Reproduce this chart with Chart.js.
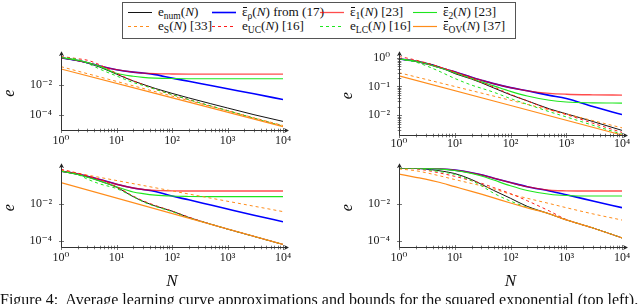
<!DOCTYPE html>
<html lang="en">
<head>
  <meta charset="UTF-8" />
  <title>Average learning curve approximations</title>
  <script src="https://cdn.jsdelivr.net/npm/chart.js@4/dist/chart.umd.min.js"></script>
  <style>
    * { box-sizing: border-box; }
    body { margin: 0; background: #fff; }
    .page {
      position: relative; width: 640px; height: 304px; overflow: hidden;
      font-family: 'Liberation Serif', 'DejaVu Serif', serif; color: #111;
    }
    canvas { position: absolute; }
    .legend { position: absolute; left: 122px; top: 2px; width: 394px; height: 37px; border: 1px solid #555; }
    .item { position: absolute; height: 14px; font-size: 13.2px; line-height: 14px; white-space: nowrap; }
    .item svg { position: absolute; left: 0; top: 6px; }
    .item .t { position: absolute; left: 30px; top: 0; }
    .item sub { font-size: 0.72em; vertical-align: -0.3em; line-height: 0; }
    .bar { position: relative; }
    .bar::before { content: ''; position: absolute; left: 0.08em; right: 0.02em; top: 0.22em; border-top: 1px solid #111; }
    .caption { position: absolute; left: 0; top: 292px; font-size: 16px; line-height: 16px; white-space: nowrap; }
  </style>
</head>
<body>
<div class="page">
  <div class="legend"></div>

  <div class="item" style="left:128px;top:5px"><svg width="24" height="3"><line x1="0" y1="1.5" x2="24" y2="1.5" stroke="#141414" stroke-width="1"/></svg><span class="t">e<sub>num</sub>(<i>N</i>)</span></div>
  <div class="item" style="left:212px;top:5px"><svg width="24" height="3"><line x1="0" y1="1.5" x2="24" y2="1.5" stroke="#0000ff" stroke-width="1.6"/></svg><span class="t"><span class="bar">ε</span><sub>ρ</sub>(<i>N</i>) from (17)</span></div>
  <div class="item" style="left:320px;top:5px"><svg width="24" height="3"><line x1="0" y1="1.5" x2="24" y2="1.5" stroke="rgba(255,0,0,0.7)" stroke-width="1.3"/></svg><span class="t"><span class="bar">ε</span><sub>1</sub>(<i>N</i>) [23]</span></div>
  <div class="item" style="left:413px;top:5px"><svg width="24" height="3"><line x1="0" y1="1.5" x2="24" y2="1.5" stroke="#1ee61e" stroke-width="1.1"/></svg><span class="t"><span class="bar">ε</span><sub>2</sub>(<i>N</i>) [23]</span></div>

  <div class="item" style="left:128px;top:19px"><svg width="24" height="3"><line x1="0" y1="1.5" x2="24" y2="1.5" stroke="#ff8c1a" stroke-width="1" stroke-dasharray="3 3"/></svg><span class="t">e<sub>S</sub>(<i>N</i>) [33]</span></div>
  <div class="item" style="left:212px;top:19px"><svg width="24" height="3"><line x1="0" y1="1.5" x2="24" y2="1.5" stroke="#ff1a1a" stroke-width="1" stroke-dasharray="3 3"/></svg><span class="t">e<sub>UC</sub>(<i>N</i>) [16]</span></div>
  <div class="item" style="left:320px;top:19px"><svg width="24" height="3"><line x1="0" y1="1.5" x2="24" y2="1.5" stroke="#1ee61e" stroke-width="1" stroke-dasharray="3 3"/></svg><span class="t">e<sub>LC</sub>(<i>N</i>) [16]</span></div>
  <div class="item" style="left:413px;top:19px"><svg width="24" height="3"><line x1="0" y1="1.5" x2="24" y2="1.5" stroke="#ff8c1a" stroke-width="1.2"/></svg><span class="t"><span class="bar">ε</span><sub>OV</sub>(<i>N</i>) [37]</span></div>

  <canvas id="tl" width="300" height="112" style="left:0;top:40px"></canvas>
  <canvas id="tr" width="310" height="112" style="left:330px;top:40px"></canvas>
  <canvas id="bl" width="300" height="140" style="left:0;top:152px"></canvas>
  <canvas id="br" width="310" height="140" style="left:330px;top:152px"></canvas>

  <div class="caption">Figure 4:&nbsp; Average learning curve approximations and bounds for the squared exponential (top left).</div>
</div>

<script>
  // sample sizes the curves are read at
  const nGrid = [1, 2, 3, 5, 10, 20, 30, 50, 100, 200, 500, 1000, 3000, 10000];
  const nEnds = [1, 10000];

  // top left panel
  const tlNum  = [0.575, 0.372, 0.263, 0.141, 0.049, 0.0174, 0.0105, 0.00562, 0.00269, 0.00135, 5.62e-4, 2.95e-4, 1.07e-4, 3.89e-5];
  const tlRho  = [0.575, 0.38, 0.275, 0.166, 0.0955, 0.0661, 0.0575, 0.0457, 0.0269, 0.0166, 0.00871, 0.00537, 0.00251, 0.00105];
  const tlEps1 = [0.575, 0.38, 0.275, 0.166, 0.0955, 0.0661, 0.0575, 0.0525, 0.0501, 0.049, 0.049, 0.049, 0.049, 0.049];
  const tlEps2 = [0.6, 0.398, 0.282, 0.158, 0.0562, 0.0355, 0.0302, 0.0269, 0.0251, 0.0245, 0.0245, 0.0245, 0.0245, 0.0245];
  const tlS    = [0.151, 2.09e-5];
  const tlUC   = [0.72, 0.5, 0.398, 0.2, 0.0562, 0.0178, 0.01, 0.00501, 0.00224, 0.00105, 3.98e-4, 2.0e-4, 6.31e-5, 1.91e-5];
  const tlLC   = [0.603, 0.447, 0.251, 0.105, 0.0372, 0.0138, 0.00891, 0.00501, 0.00224, 0.00105, 3.98e-4, 2.0e-4, 6.31e-5, 1.91e-5];
  const tlOV   = [0.107, 1.78e-5];

  // top right panel
  const trNum  = [0.912, 0.759, 0.661, 0.501, 0.282, 0.182, 0.135, 0.0891, 0.0513, 0.0316, 0.0166, 0.0112, 0.00603, 0.00295];
  const trRho  = [0.912, 0.759, 0.631, 0.479, 0.324, 0.209, 0.166, 0.126, 0.0912, 0.0708, 0.049, 0.038, 0.02, 0.0105];
  const trEps1 = [0.912, 0.759, 0.631, 0.479, 0.324, 0.209, 0.166, 0.126, 0.0912, 0.0708, 0.0575, 0.0537, 0.0513, 0.0501];
  const trEps2 = [0.912, 0.759, 0.631, 0.468, 0.302, 0.191, 0.145, 0.105, 0.0676, 0.0468, 0.0331, 0.0288, 0.0269, 0.0263];
  const trS    = [0.302, 0.00363];
  const trUC   = [1.12, 0.832, 0.676, 0.501, 0.316, 0.191, 0.141, 0.0955, 0.0537, 0.0316, 0.0158, 0.0105, 0.00525, 0.00251];
  const trLC   = [0.912, 0.708, 0.537, 0.355, 0.191, 0.112, 0.0871, 0.0631, 0.038, 0.024, 0.0132, 0.00871, 0.00447, 0.00219];
  const trOV   = [0.234, 0.00204];

  // bottom left panel
  const blNum  = [0.537, 0.355, 0.263, 0.158, 0.0741, 0.0234, 0.0132, 0.00741, 0.00398, 0.00182, 7.94e-4, 4.37e-4, 1.78e-4, 6.61e-5];
  const blRho  = [0.537, 0.38, 0.282, 0.191, 0.107, 0.0676, 0.0562, 0.0437, 0.0251, 0.0158, 0.00832, 0.00513, 0.0024, 0.00107];
  const blEps1 = [0.537, 0.38, 0.282, 0.191, 0.107, 0.0676, 0.0562, 0.0501, 0.0479, 0.0468, 0.0468, 0.0468, 0.0468, 0.0468];
  const blEps2 = [0.537, 0.355, 0.251, 0.158, 0.0794, 0.0417, 0.0339, 0.0282, 0.0251, 0.024, 0.0234, 0.0234, 0.0234, 0.0234];
  const blS    = [0.603, 0.00372];
  const blUC   = [0.676, 0.417, 0.302, 0.191, 0.0794, 0.0251, 0.0141, 0.00794, 0.00398, 0.00191, 7.94e-4, 4.37e-4, 1.78e-4, 6.61e-5];
  const blLC   = [0.537, 0.355, 0.2, 0.112, 0.0631, 0.0234, 0.0126, 0.00708, 0.00372, 0.00174, 7.94e-4, 4.37e-4, 1.78e-4, 6.61e-5];
  const blOV   = [0.132, 6.61e-5];

  // bottom right panel
  const brNum  = [0.75, 0.74, 0.69, 0.575, 0.398, 0.191, 0.107, 0.0501, 0.0191, 0.00708, 0.00282, 0.00135, 5.01e-4, 1.48e-4];
  const brRho  = [0.76, 0.76, 0.75, 0.724, 0.603, 0.437, 0.339, 0.224, 0.132, 0.0794, 0.0468, 0.0295, 0.0138, 0.00603];
  const brEps1 = [0.76, 0.76, 0.75, 0.724, 0.603, 0.437, 0.339, 0.224, 0.132, 0.0794, 0.0513, 0.0479, 0.0468, 0.0468];
  const brEps2 = [0.76, 0.76, 0.75, 0.708, 0.575, 0.398, 0.295, 0.178, 0.0891, 0.0501, 0.0316, 0.0269, 0.0251, 0.0251];
  const brS    = [0.7, 0.562, 0.447, 0.316, 0.191, 0.1175, 0.0891, 0.0603, 0.0316, 0.0191, 0.01, 0.00603, 0.00282, 0.00132];
  const brUC   = [0.76, 0.708, 0.603, 0.447, 0.282, 0.166, 0.12, 0.0708, 0.0339, 0.0141, 0.00398, 0.00141, 5.01e-4, 1.48e-4];
  const brLC   = [0.76, 0.741, 0.661, 0.525, 0.355, 0.166, 0.0891, 0.0355, 0.0135, 0.00631, 0.00282, 0.00135, 5.01e-4, 1.48e-4];
  const brOV   = [0.372, 0.251, 0.2, 0.141, 0.0794, 0.0447, 0.0316, 0.02, 0.0107, 0.00589, 0.00282, 0.00135, 5.01e-4, 1.48e-4];

  // axis tick labels
  const xTickValues = [1, 10, 100, 1000, 10000];
  const yTicksWide = [1e-2, 1e-4];
  const yTicksTR = [1, 0.1, 0.01];

  const serif = "'Liberation Serif', 'DejaVu Serif', serif";
  const seriesKeys = ['num', 'rho', 'eps1', 'eps2', 'S', 'UC', 'LC', 'OV'];
  const seriesStyle = {
    num:  { color: '#141414', width: 1.0, dash: [] },
    rho:  { color: '#0000ff', width: 1.6, dash: [] },
    eps1: { color: 'rgba(255,0,0,0.7)', width: 1.3, dash: [] },
    eps2: { color: '#1ee61e', width: 1.1, dash: [] },
    S:    { color: '#ff8c1a', width: 1.0, dash: [3, 3] },
    UC:   { color: '#ff1a1a', width: 1.0, dash: [3, 3] },
    LC:   { color: '#1ee61e', width: 1.0, dash: [3, 3] },
    OV:   { color: '#ff8c1a', width: 1.2, dash: [] }
  };

  const sup = { '-': '\u207B', '0': '\u2070', '1': '\u00B9', '2': '\u00B2', '3': '\u00B3', '4': '\u2074', '5': '\u2075' };
  function powLabel(v) {
    const k = Math.round(Math.log10(v));
    return '10' + String(k).split('').map(c => sup[c]).join('');
  }

  function minorValues(min, max) {
    const out = [];
    for (let k = Math.floor(Math.log10(min)); k <= Math.ceil(Math.log10(max)); k++) {
      for (let m = 1; m < 10; m++) {
        const v = m * Math.pow(10, k);
        if (v >= min * 0.999 && v <= max * 1.001) out.push({ v, major: m === 1 });
      }
    }
    return out;
  }

  // pgfplots-like axis lines: arrows and ticks crossing the axis
  const axisDeco = {
    id: 'axisDeco',
    afterDatasetsDraw(chart, args, opts) {
      const { ctx, chartArea: a, scales: { x, y } } = chart;
      const xb = Math.round(a.bottom) + 0.5;
      const yl = Math.round(a.left) + 0.5;
      ctx.save();
      ctx.strokeStyle = '#555';
      ctx.lineWidth = 0.8;
      ctx.beginPath();
      minorValues(x.min, x.max).forEach(t => {
        const px = Math.round(x.getPixelForValue(t.v)) + 0.5;
        const h = t.major ? 2.5 : 1.8;
        ctx.moveTo(px, xb - h); ctx.lineTo(px, xb + h);
      });
      const yt = opts.yMinor ? minorValues(y.min, y.max) : opts.yTicks.map(v => ({ v, major: true }));
      yt.forEach(t => {
        const py = Math.round(y.getPixelForValue(t.v)) + 0.5;
        const h = t.major ? 2.5 : 1.8;
        ctx.moveTo(yl - h, py); ctx.lineTo(yl + h, py);
      });
      ctx.stroke();

      ctx.strokeStyle = '#333';
      ctx.fillStyle = '#222';
      ctx.lineWidth = 1;
      ctx.beginPath();
      ctx.moveTo(yl, xb); ctx.lineTo(a.right + 3, xb);
      ctx.moveTo(yl, xb); ctx.lineTo(yl, a.top - 2);
      ctx.stroke();
      ctx.beginPath();
      ctx.moveTo(a.right + 6, xb); ctx.lineTo(a.right + 1, xb - 2.6); ctx.lineTo(a.right + 2.5, xb); ctx.lineTo(a.right + 1, xb + 2.6); ctx.closePath();
      ctx.moveTo(yl, a.top - 5); ctx.lineTo(yl - 2.6, a.top); ctx.lineTo(yl, a.top - 1.5); ctx.lineTo(yl + 2.6, a.top); ctx.closePath();
      ctx.fill();
      ctx.restore();
    }
  };

  function buildPanel(p) {
    const datasets = seriesKeys.map((k, i) => {
      const vals = p.series[k];
      const xs = vals.length === 2 ? nEnds : nGrid;
      const st = seriesStyle[k];
      return {
        label: k,
        data: xs.map((n, j) => ({ x: n, y: vals[j] })),
        borderColor: st.color,
        borderWidth: st.width,
        borderDash: st.dash,
        pointRadius: 0,
        fill: false,
        cubicInterpolationMode: 'monotone',
        order: seriesKeys.length - i
      };
    });

    return new Chart(document.getElementById(p.id), {
      type: 'line',
      data: { datasets },
      options: {
        responsive: false,
        animation: false,
        events: [],
        layout: { padding: { left: 0, right: p.padR, top: p.padT, bottom: 0 } },
        plugins: {
          legend: { display: false },
          tooltip: { enabled: false },
          axisDeco: { yMinor: p.yMinor, yTicks: p.yTicks }
        },
        scales: {
          x: {
            type: 'logarithmic', min: 1, max: 10000,
            afterBuildTicks: s => { s.ticks = xTickValues.map(v => ({ value: v })); },
            afterFit: s => { s.height = p.xH; },
            grid: { display: false, drawTicks: false },
            border: { display: false },
            ticks: { autoSkip: false, maxRotation: 0, padding: p.xPad, color: '#1a1a1a', font: { family: serif, size: 12 }, callback: powLabel },
            title: { display: p.showN, text: 'N', color: '#111', font: { family: serif, size: 17, style: 'italic' }, padding: { top: 0, bottom: 0 } }
          },
          y: {
            type: 'logarithmic', min: p.yMin, max: p.yMax,
            afterBuildTicks: s => { s.ticks = p.yTicks.map(v => ({ value: v })); },
            afterFit: s => { s.width = p.yW; },
            grid: { display: false, drawTicks: false },
            border: { display: false },
            ticks: { autoSkip: false, padding: 9, color: '#1a1a1a', font: { family: serif, size: 12 }, callback: powLabel },
            title: { display: true, text: 'e', color: '#111', font: { family: serif, size: 16, style: 'italic' }, padding: { top: p.ePad, bottom: 0 } }
          }
        }
      },
      plugins: [axisDeco]
    });
  }

  buildPanel({
    id: 'tl', yMin: 1.06e-5, yMax: 0.735, yTicks: yTicksWide, yMinor: false,
    padT: 7, padR: 17, xH: 22, yW: 61, xPad: 4, ePad: 0, showN: false,
    series: { num: tlNum, rho: tlRho, eps1: tlEps1, eps2: tlEps2, S: tlS, UC: tlUC, LC: tlLC, OV: tlOV }
  });
  buildPanel({
    id: 'tr', yMin: 2.04e-3, yMax: 1.137, yTicks: yTicksTR, yMinor: true,
    padT: 11, padR: 18, xH: 17, yW: 69, xPad: 2, ePad: 8, showN: false,
    series: { num: trNum, rho: trRho, eps1: trEps1, eps2: trEps2, S: trS, UC: trUC, LC: trLC, OV: trOV }
  });
  buildPanel({
    id: 'bl', yMin: 4.84e-5, yMax: 0.767, yTicks: yTicksWide, yMinor: false,
    padT: 11, padR: 17, xH: 45, yW: 61, xPad: 4, ePad: 0, showN: true,
    series: { num: blNum, rho: blRho, eps1: blEps1, eps2: blEps2, S: blS, UC: blUC, LC: blLC, OV: blOV }
  });
  buildPanel({
    id: 'br', yMin: 4.84e-5, yMax: 0.767, yTicks: yTicksWide, yMinor: false,
    padT: 11, padR: 18, xH: 45, yW: 69, xPad: 4, ePad: 8, showN: true,
    series: { num: brNum, rho: brRho, eps1: brEps1, eps2: brEps2, S: brS, UC: brUC, LC: brLC, OV: brOV }
  });
</script>
</body>
</html>
